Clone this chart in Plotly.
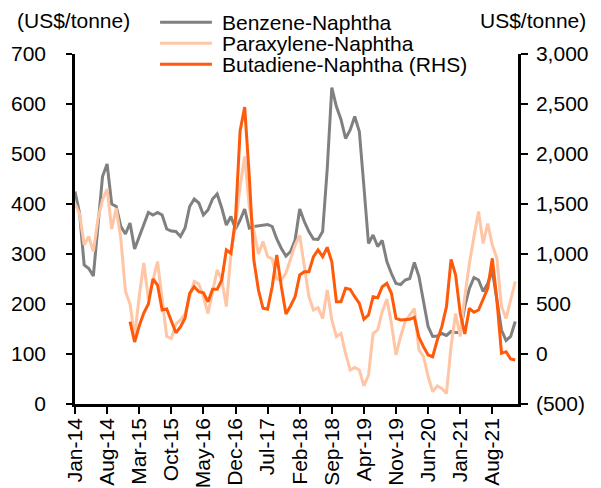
import pandas as pd
import plotly.graph_objects as go

# ---- data ----
months = [d.strftime("%b-%y") for d in pd.date_range("2014-01-01", "2022-01-01", freq="MS")]
tick_labels = ["Jan-14", "Aug-14", "Mar-15", "Oct-15", "May-16", "Dec-16", "Jul-17",
               "Feb-18", "Sep-18", "Apr-19", "Nov-19", "Jun-20", "Jan-21", "Aug-21"]

benzene = [425, 381, 278, 271, 256, 360, 455, 480, 400, 395,
           355, 340, 362, 310, 335, 360, 383, 378, 383, 378,
           350, 346, 345, 335, 352, 395, 410, 402, 378, 388,
           410, 420, 392, 358, 375, 350, 368, 390, 352, 355,
           356, 357, 359, 355, 330, 311, 296, 305, 328, 390,
           365, 345, 330, 329, 345, 470, 633, 595, 569, 531,
           548, 575, 545, 435, 321, 338, 315, 327, 285, 261,
           241, 239, 248, 251, 283, 255, 201, 155, 135, 136,
           141, 137, 145, 143, 143, 195, 231, 253, 248, 225,
           241, 267, 208, 148, 127, 135, 165]

paraxylene = [401, 380, 318, 335, 305, 370, 408, 430, 350, 392,
              330, 225, 200, 135, 215, 282, 210, 250, 285, 210,
              135, 131, 160, 168, 180, 215, 245, 240, 215, 181,
              225, 268, 248, 195, 300, 360, 435, 495, 395, 348,
              300, 325, 295, 290, 250, 248, 262, 290, 318, 337,
              275, 215, 188, 193, 171, 228, 168, 135, 141, 101,
              68, 73, 68, 36, 58, 141, 148, 185, 210, 161,
              98, 135, 165, 178, 191, 108, 95, 55, 25, 36,
              31, 21, 115, 181, 135, 215, 281, 335, 385, 321,
              361, 318, 291, 195, 171, 208, 245]

butadiene = [None] * 12 + [
    323, 120, 280, 410, 500, 750, 690, 440, 450, 330,
    213, 270, 360, 607, 673, 623, 613, 523, 647, 647,
    740, 1040, 1007, 1350, 2230, 2470, 1780, 940, 640, 457,
    447, 673, 990, 673, 400, 480, 573, 790, 823, 823,
    973, 1040, 973, 1067, 923, 523, 523, 657, 647, 573,
    507, 347, 390, 573, 563, 673, 707, 607, 357, 340,
    345, 347, 367, 167, 73, -10, -27, 140, 273, 473,
    947, 790, 407, 200, 457, 417, 440, 557, 657, 957,
    540, 7, 23, -50, -60]

left_ticks = [0, 100, 200, 300, 400, 500, 600, 700]
right_ticks = [-500, 0, 500, 1000, 1500, 2000, 2500, 3000]
right_tick_text = ["(500)", "0", "500", "1,000", "1,500", "2,000", "2,500", "3,000"]

series_names = ["Benzene-Naphtha", "Paraxylene-Naphtha", "Butadiene-Naphtha (RHS)"]
colors = ["#808080", "#FFC6A6", "#FF5A0A"]

FONT = "Arial, Liberation Sans, sans-serif"
FS = 21

fig = go.Figure()
fig.add_trace(go.Scatter(x=months, y=benzene, name=series_names[0], mode="lines",
                         line=dict(color=colors[0], width=3), yaxis="y"))
fig.add_trace(go.Scatter(x=months, y=paraxylene, name=series_names[1], mode="lines",
                         line=dict(color=colors[1], width=3), yaxis="y"))
fig.add_trace(go.Scatter(x=months, y=butadiene, name=series_names[2], mode="lines",
                         line=dict(color=colors[2], width=3), yaxis="y2",
                         connectgaps=False))

axis_common = dict(showgrid=False, zeroline=False, showline=True, linecolor="black",
                   linewidth=2.5, ticks="outside", tickcolor="black", tickwidth=2,
                   automargin=False,
                   tickfont=dict(family=FONT, size=FS, color="black"))

# page body has an 8px margin; figure offset accounted for in the margins
fig.update_layout(
    width=593, height=480,
    margin=dict(l=67, r=83, t=46, b=84),
    paper_bgcolor="white", plot_bgcolor="white",
    showlegend=False,
    font=dict(family=FONT, size=FS, color="black"),
    xaxis=dict(type="category", categoryorder="array", categoryarray=months,
               range=[0, 96.6], tickvals=tick_labels, ticktext=tick_labels,
               tickangle=-90, ticklen=7, ticklabelstandoff=-4, **axis_common),
    yaxis=dict(range=[0, 700], tickvals=left_ticks, ticklen=6,
               ticklabelstandoff=16, **axis_common),
    yaxis2=dict(range=[-500, 3000], tickvals=right_ticks, ticktext=right_tick_text,
                overlaying="y", side="right", anchor="x", ticklen=7,
                ticklabelstandoff=4, **axis_common),
)

# axis unit labels
fig.add_annotation(text="(US$/tonne)", xref="paper", yref="paper", x=-0.135, y=1.097,
                   xanchor="left", yanchor="middle", showarrow=False,
                   font=dict(family=FONT, size=FS))
fig.add_annotation(text="US$/tonne)", xref="paper", yref="paper", x=1.158, y=1.097,
                   xanchor="right", yanchor="middle", showarrow=False,
                   font=dict(family=FONT, size=FS))

# legend (drawn as text + sample lines)
legend_rows = [1.091, 1.031, 0.971]
for name, col, yy in zip(series_names, colors, legend_rows):
    fig.add_shape(type="line", xref="paper", yref="paper", x0=0.192, x1=0.309,
                  y0=yy, y1=yy, line=dict(color=col, width=3))
    fig.add_annotation(text=name, xref="paper", yref="paper", x=0.330, y=yy,
                       xanchor="left", yanchor="middle", showarrow=False,
                       borderpad=0,
                       font=dict(family=FONT, size=FS))

fig.write_html("out.html")
